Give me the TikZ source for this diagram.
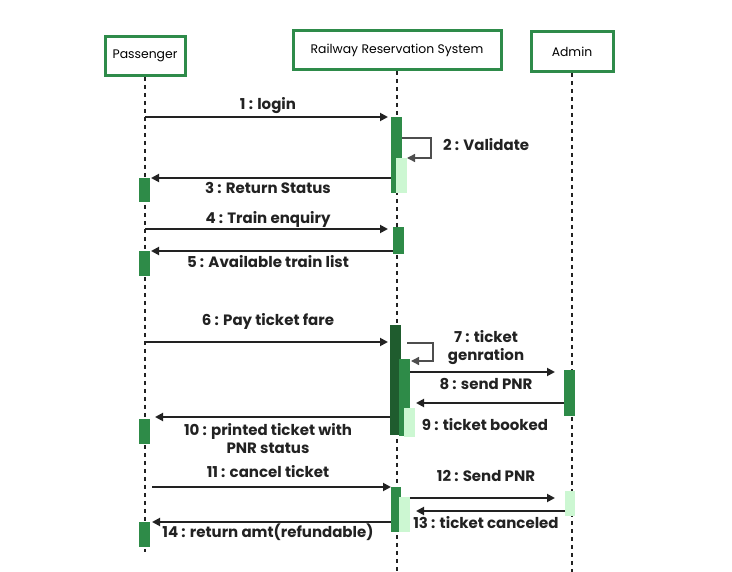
\documentclass[tikz,border=0pt]{standalone}
\usepackage{fontspec}
\setmainfont{Poppins}
\usetikzlibrary{arrows.meta}
\definecolor{gborder}{HTML}{2E8B4A}
\definecolor{gbar}{HTML}{2E8B48}
\definecolor{gdark}{HTML}{1F5C2E}
\definecolor{glight}{HTML}{CCF7D2}
\definecolor{arr}{HTML}{222222}
\begin{document}
\begin{tikzpicture}[x=1pt,y=-1pt,
 actor/.style={draw=gborder,line width=3pt,fill=white,inner sep=0pt,font=\fontsize{12.4}{14}\selectfont},
 life/.style={draw=arr,line width=1.5pt,dash pattern=on 4pt off 4pt},
 bar/.style={fill=gbar},
 darkbar/.style={fill=gdark},
 lightbar/.style={fill=glight},
 msg/.style={draw=arr,line width=1.8pt,-{Triangle[length=8pt,width=8pt]}},
 selfmsg/.style={draw=arr!80,line width=1.4pt,-{Triangle[length=8pt,width=8pt]}},
 lbl/.style={font=\fontsize{15}{18}\selectfont\bfseries,text=arr,inner sep=0pt,align=center}]
\useasboundingbox (0,0) rectangle (732,572);
% actors
\node[actor,minimum width=80pt,minimum height=39pt] (pass) at (145,56) {Passenger};
\node[actor,minimum width=208pt,minimum height=39pt] (rrs) at (397,50) {Railway Reservation System};
\node[actor,minimum width=82pt,minimum height=40pt] (adm) at (572,51.5) {Admin};
% lifelines
\coordinate (passEnd) at (145,552);
\coordinate (rrsEnd) at (397,572);
\coordinate (admEnd) at (572,572);
\draw[life] (pass.south) -- (passEnd);
\draw[life] (rrs.south) -- (rrsEnd);
\draw[life] (adm.south) -- (admEnd);
% activation bars
\fill[bar] (391,117) rectangle (402,193);
\fill[lightbar] (396,158) rectangle (407,193);
\fill[bar] (139,178) rectangle (150,202);
\fill[bar] (393,227) rectangle (404,254);
\fill[bar] (139,251) rectangle (150,276);
\fill[darkbar] (390,325) rectangle (401,435);
\fill[bar] (399,359) rectangle (410,436);
\fill[lightbar] (404,408) rectangle (415,437);
\fill[bar] (564,370) rectangle (575,416);
\fill[bar] (139,419) rectangle (150,444);
\fill[bar] (391,487) rectangle (401,532);
\fill[lightbar] (399,497) rectangle (410,532);
\fill[lightbar] (565,491) rectangle (575,516);
\fill[bar] (139,522) rectangle (150,547);
% message end points
\coordinate (m1s) at (145,117);  \coordinate (m1e) at (388,117);
\coordinate (m2a) at (402,138);  \coordinate (m2b) at (431,138);
\coordinate (m2c) at (431,158);  \coordinate (m2e) at (407,158);
\coordinate (m3s) at (391,178);  \coordinate (m3e) at (151,178);
\coordinate (m4s) at (145,229);  \coordinate (m4e) at (388,229);
\coordinate (m5s) at (393,251);  \coordinate (m5e) at (151,251);
\coordinate (m6s) at (145,342);  \coordinate (m6e) at (388,342);
\coordinate (m7a) at (407,343);  \coordinate (m7b) at (433,343);
\coordinate (m7c) at (433,361);  \coordinate (m7e) at (411,361);
\coordinate (m8s) at (410,372);  \coordinate (m8e) at (555,372);
\coordinate (m9s) at (564,403);  \coordinate (m9e) at (416,403);
\coordinate (m10s) at (390,417); \coordinate (m10e) at (155,417);
\coordinate (m11s) at (152,487); \coordinate (m11e) at (391,487);
\coordinate (m12s) at (410,498); \coordinate (m12e) at (555,498);
\coordinate (m13s) at (565,511); \coordinate (m13e) at (416,511);
\coordinate (m14s) at (391,522); \coordinate (m14e) at (152,522);
% messages
\draw[msg] (m1s) -- (m1e);
\draw[selfmsg] (m2a) -- (m2b) -- (m2c) -- (m2e);
\draw[msg] (m3s) -- (m3e);
\draw[msg] (m4s) -- (m4e);
\draw[msg] (m5s) -- (m5e);
\draw[msg] (m6s) -- (m6e);
\draw[selfmsg] (m7a) -- (m7b) -- (m7c) -- (m7e);
\draw[msg] (m8s) -- (m8e);
\draw[msg] (m9s) -- (m9e);
\draw[msg] (m10s) -- (m10e);
\draw[msg] (m11s) -- (m11e);
\draw[msg] (m12s) -- (m12e);
\draw[msg] (m13s) -- (m13e);
\draw[msg] (m14s) -- (m14e);
% labels
\node[lbl,anchor=base] (l1) at (268,110) {1 : login};
\node[lbl,anchor=base west] (l2) at (443,151) {2 : Validate};
\node[lbl,anchor=base] (l3) at (268,194) {3 : Return Status};
\node[lbl,anchor=base] (l4) at (268,224) {4 : Train enquiry};
\node[lbl,anchor=base] (l5) at (268,268) {5 : Available train list};
\node[lbl,anchor=base] (l6) at (268,326) {6 : Pay ticket fare};
\node[lbl] (l7) at (486,348) {7 : ticket\\genration};
\node[lbl,anchor=base] (l8) at (486,390) {8 : send PNR};
\node[lbl,anchor=base] (l9) at (485,431) {9 : ticket booked};
\node[lbl] (l10) at (268,439) {10 : printed ticket with\\PNR status};
\node[lbl,anchor=base] (l11) at (268,478) {11 : cancel ticket};
\node[lbl,anchor=base] (l12) at (486,482) {12 : Send PNR};
\node[lbl,anchor=base] (l13) at (486,529) {13 : ticket canceled};
\node[lbl,anchor=base] (l14) at (268,537) {14 : return amt(refundable)};
\end{tikzpicture}
\end{document}
